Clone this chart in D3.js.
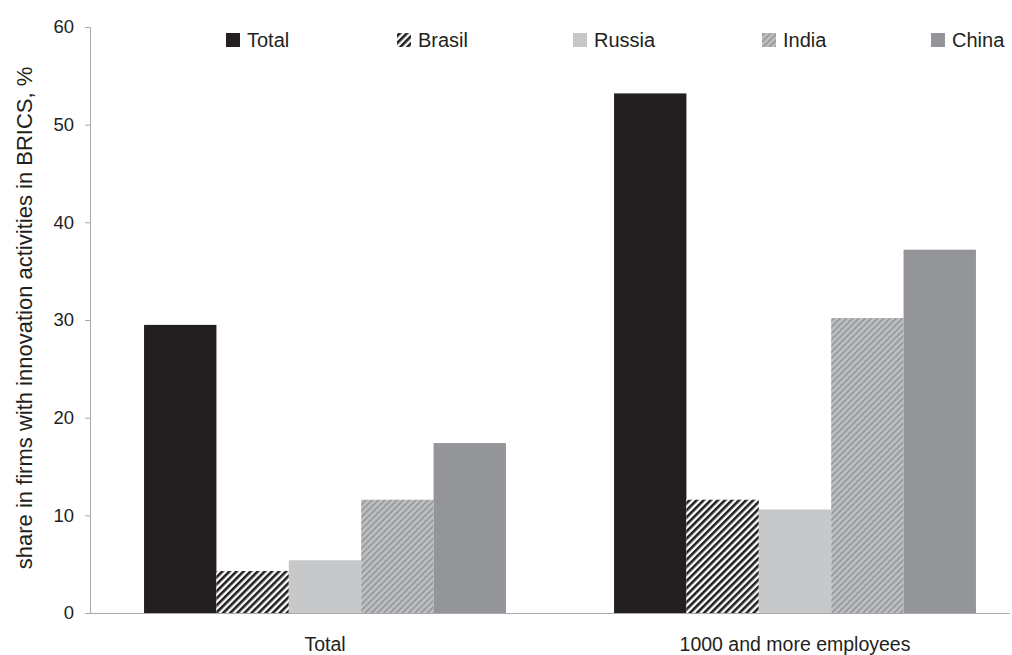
<!DOCTYPE html>
<html><head><meta charset="utf-8">
<script src="https://cdn.jsdelivr.net/npm/d3@7"></script>
<style>body{margin:0;background:#fff}svg{display:block;font-family:"Liberation Sans",Arial,sans-serif}</style>
</head><body><svg id="c" width="1012" height="655"></svg>
<script>
const categories = ["Total", "1000 and more employees"];
const seriesNames = ["Total", "Brasil", "Russia", "India", "China"];
const totalValues = [29.5, 53.2];
const brasilValues = [4.3, 11.6];
const russiaValues = [5.4, 10.6];
const indiaValues = [11.6, 30.2];
const chinaValues = [17.4, 37.2];
const yTicks = [0, 10, 20, 30, 40, 50, 60];
const seriesValues = [totalValues, brasilValues, russiaValues, indiaValues, chinaValues];

const svg = d3.select("#c");
const defs = svg.append("defs");
const pb = defs.append("pattern").attr("id","pBrasil").attr("patternUnits","userSpaceOnUse")
  .attr("width",5).attr("height",5).attr("patternTransform","rotate(45)");
pb.append("rect").attr("width",5).attr("height",5).attr("fill","#fff");
pb.append("rect").attr("width",2.6).attr("height",5).attr("fill","#231f20");
const pi = defs.append("pattern").attr("id","pIndia").attr("patternUnits","userSpaceOnUse")
  .attr("width",4.4).attr("height",4.4).attr("patternTransform","rotate(45)");
pi.append("rect").attr("width",4.4).attr("height",4.4).attr("fill","#bdbec0");
pi.append("rect").attr("width",1.5).attr("height",4.4).attr("fill","#939497");
const fills = ["#231f20","url(#pBrasil)","#c7c8ca","url(#pIndia)","#939598"];

const m = {l:90, r:1010, t:27, b:613};
const y = d3.scaleLinear().domain([0,60]).range([m.b, m.t]);
const x0 = d3.scaleBand().domain(categories).range([m.l, 1030]).paddingInner(0.23).paddingOuter(0.115);
const x1 = d3.scaleBand().domain(seriesNames).range([0, x0.bandwidth()]);

const yAxis = svg.append("g").attr("transform",`translate(${m.l},0)`)
  .call(d3.axisLeft(y).tickValues(yTicks).tickSize(5).tickPadding(11).tickSizeOuter(0));
yAxis.select(".domain").attr("stroke","#a7a9ac");
yAxis.selectAll(".tick line").attr("stroke","#a7a9ac");
yAxis.selectAll("text").attr("font-size",18.5).attr("fill","#231f20").attr("font-family","Liberation Sans, Arial, sans-serif");

const g = svg.append("g");
categories.forEach((c,i)=>{
  seriesNames.forEach((s,j)=>{
    const v = seriesValues[j][i];
    g.append("rect").attr("x",x0(c)+x1(s)).attr("y",y(v)).attr("width",x1.bandwidth()).attr("height",y(0)-y(v)).attr("fill",fills[j]);
  });
});

const xAxis = svg.append("g").attr("transform",`translate(0,${m.b})`)
  .call(d3.axisBottom(x0).tickSize(0).tickPadding(24));
xAxis.select(".domain").attr("stroke","#a7a9ac").attr("d",`M${m.l},0.5H${m.r}`);
xAxis.selectAll("text").attr("font-size",19.5).attr("fill","#231f20").attr("font-family","Liberation Sans, Arial, sans-serif");

svg.append("text").attr("transform","translate(32,318) rotate(-90)").attr("text-anchor","middle")
  .attr("font-size",22).attr("fill","#231f20").text("share in firms with innovation activities in BRICS, %");

const legX = [226, 397, 573, 762, 931];
const leg = svg.append("g");
seriesNames.forEach((s,j)=>{
  leg.append("rect").attr("x",legX[j]).attr("y",33).attr("width",14).attr("height",14).attr("fill",fills[j]);
  leg.append("text").attr("x",legX[j]+21).attr("y",47).attr("font-size",20).attr("fill","#231f20").text(s);
});
</script></body></html>
